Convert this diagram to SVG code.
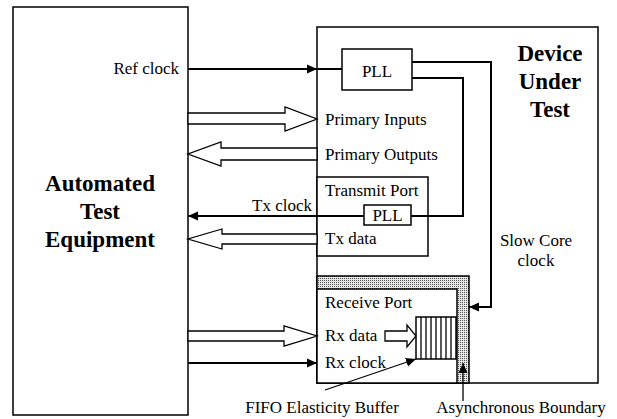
<svg xmlns="http://www.w3.org/2000/svg" width="617" height="419" viewBox="0 0 617 419">
<defs>
<style>
.box{fill:#fff;stroke:#000;stroke-width:1.5}
.wire{fill:none;stroke:#000;stroke-width:2}
.thin{fill:none;stroke:#000;stroke-width:1.3}
.hollow{fill:#fff;stroke:#000;stroke-width:1.3;stroke-linejoin:miter}
text{font-family:'Liberation Serif','Times New Roman','DejaVu Serif',serif;fill:#000}
.t{font-size:17px}
.b{font-size:23px;font-weight:bold}
</style>
<marker id="arr" markerUnits="userSpaceOnUse" markerWidth="10" markerHeight="10" viewBox="0 0 10 10" refX="10" refY="5" orient="auto">
<path d="M0,0.5 L10,5 L0,9.5 Z" fill="#000"/>
</marker>
<pattern id="dots" width="2" height="2" patternUnits="userSpaceOnUse">
<rect width="2" height="2" fill="#e6e6e6"/>
<rect width="1" height="1" fill="#555"/>
</pattern>
</defs>
<rect width="617" height="419" fill="#fff"/>

<g id="ate">
<rect class="box" x="13" y="7" width="175" height="408"/>
<text class="b" x="100" y="191" text-anchor="middle">Automated</text>
<text class="b" x="100" y="219" text-anchor="middle">Test</text>
<text class="b" x="100" y="247" text-anchor="middle">Equipment</text>
</g>

<g id="dut">
<rect class="box" x="317" y="27" width="281" height="356"/>
<text class="b" x="550" y="61" text-anchor="middle">Device</text>
<text class="b" x="550" y="89" text-anchor="middle">Under</text>
<text class="b" x="550" y="117" text-anchor="middle">Test</text>
<text class="t" x="325" y="125">Primary Inputs</text>
<text class="t" x="325" y="160">Primary Outputs</text>
<text class="t" x="536" y="246" text-anchor="middle">Slow Core</text>
<text class="t" x="536" y="266" text-anchor="middle">clock</text>
</g>

<g id="pll">
<rect class="box" x="342" y="49" width="70" height="41"/>
<text class="t" x="377" y="77" text-anchor="middle">PLL</text>
</g>

<g id="transmit-port">
<rect class="box" x="317" y="177" width="111" height="79"/>
<text class="t" x="325" y="196">Transmit Port</text>
<text class="t" x="325" y="244">Tx data</text>
</g>

<g id="tx-pll">
<rect class="box" x="364" y="205" width="47" height="20"/>
<text class="t" x="387.5" y="221" text-anchor="middle">PLL</text>
</g>

<g id="receive-port">
<rect x="317" y="276" width="152" height="107" fill="url(#dots)" stroke="#000" stroke-width="1.5"/>
<rect class="box" x="317" y="289" width="140" height="94"/>
<text class="t" x="325" y="308">Receive Port</text>
<text class="t" x="325" y="341">Rx data</text>
<text class="t" x="325" y="368">Rx clock</text>
</g>

<g id="fifo">
<rect class="box" x="416" y="317" width="40" height="42"/>
<path class="thin" d="M421,317V359M426,317V359M431,317V359M436,317V359M441,317V359M446,317V359M451,317V359"/>
</g>

<g id="connectors">
<path class="wire" d="M188,69H342"/>
<path class="wire" d="M188,69H317" marker-end="url(#arr)"/>
<polygon class="hollow" points="188,113 285,113 285,107 317,119 285,131 285,124 188,124"/>
<polygon class="hollow" points="317,148 221,148 221,142 188,154 221,166 221,160 317,160"/>
<path class="wire" d="M364,216H188" marker-end="url(#arr)"/>
<polygon class="hollow" points="317,234 222,234 222,229 188,239 222,249 222,244 317,244"/>
<polygon class="hollow" points="188,331 284,331 284,326 317,336 284,346 284,341 188,341"/>
<path class="wire" d="M188,363H317" marker-end="url(#arr)"/>
<polygon class="hollow" points="385,331 407,331 407,325 416,336 407,347 407,341 385,341"/>
<path class="wire" d="M412,62H491V307H469" marker-end="url(#arr)"/>
<path class="wire" d="M412,78H463V216H411"/>
<path class="thin" d="M325,390L416,359" marker-end="url(#arr)"/>
<path class="thin" d="M463,401V363" marker-end="url(#arr)"/>
</g>

<g id="labels">
<text class="t" x="179" y="74" text-anchor="end">Ref clock</text>
<text class="t" x="312" y="211" text-anchor="end">Tx clock</text>
<text class="t" x="322" y="413" text-anchor="middle">FIFO Elasticity Buffer</text>
<text class="t" x="521" y="413" text-anchor="middle">Asynchronous Boundary</text>
</g>
</svg>
